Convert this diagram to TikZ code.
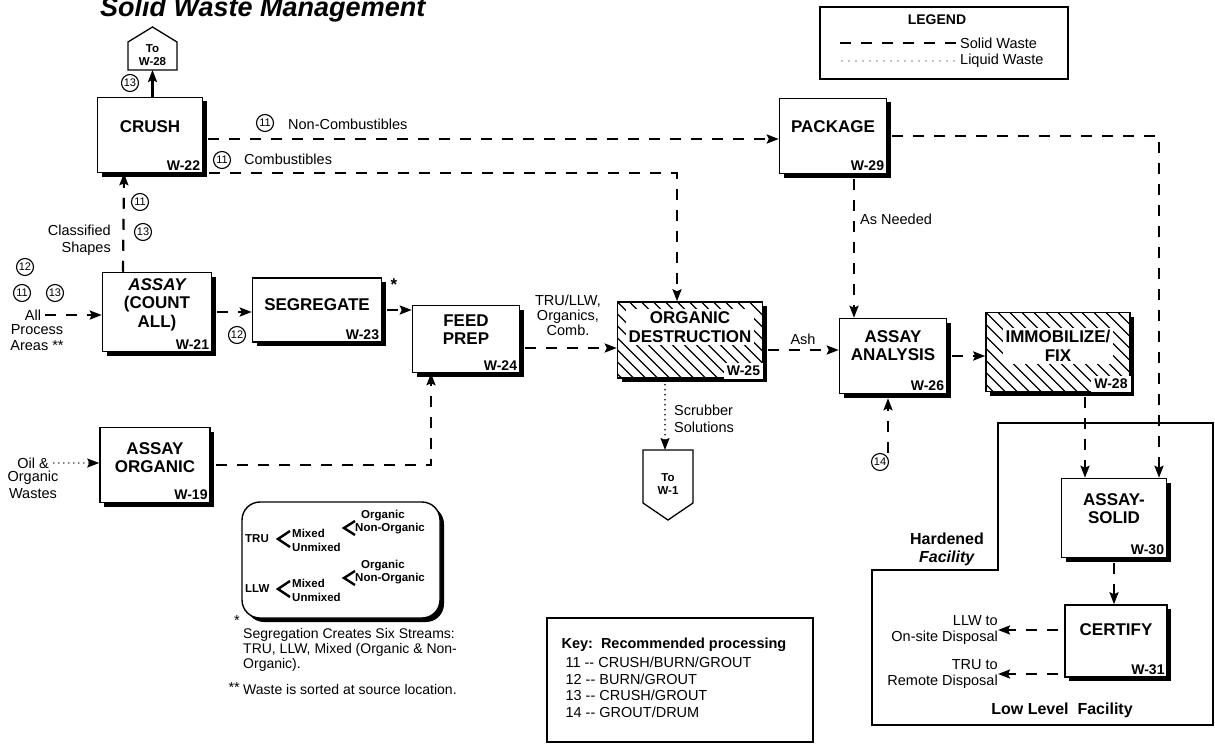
\documentclass[tikz,border=0pt]{standalone}
\usepackage{fontspec}
\setmainfont{Liberation Sans}
\usetikzlibrary{arrows.meta,positioning,calc,shadows}

\begin{document}
\begin{tikzpicture}[x=1pt, y=-1pt, font=\fontsize{14.5}{16.5}\selectfont,
  shadowed/.style={drop shadow={shadow xshift=4pt, shadow yshift=-4pt, opacity=1, fill=black}},
  procbox/.style={draw, line width=1.5pt, fill=white, inner sep=0pt, shadowed},
  hatchbox/.style={procbox, path picture={
      \foreach \k in {-96,-84,...,156}
        \draw[line width=1.2pt] ($(path picture bounding box.north west)+(\k,0)$) -- ++(120,120);}},
  boxtxt/.style={font=\fontsize{17}{18.5}\selectfont\bfseries, align=center, anchor=center, inner sep=0pt},
  hatchtxt/.style={boxtxt, fill=white, inner sep=2.5pt},
  wlab/.style={font=\fontsize{14}{14}\selectfont\bfseries, anchor=south east, inner sep=3pt},
  num/.style={circle, draw, line width=1.1pt, inner sep=0pt, minimum size=17pt, font=\fontsize{11}{11}\selectfont},
  lab/.style={inner sep=0pt, align=center},
  treetxt/.style={inner sep=0pt, anchor=west, font=\fontsize{11.5}{12}\selectfont\bfseries},
  fork/.style={line width=2.4pt, line join=miter},
  solidflow/.style={line width=2.2pt, dash pattern=on 11pt off 10pt},
  liquidflow/.style={line width=1.6pt, line cap=round, dash pattern=on 0pt off 5pt},
  tip/.style={-{Stealth[length=12pt, width=9pt, inset=2pt]}},
]
\useasboundingbox (0,0) rectangle (1215,749);

% title
\node[anchor=base west, inner sep=0pt, font=\fontsize{27}{27}\selectfont\bfseries\itshape] (title) at (100,17) {Solid Waste Management};

% legend
\node[draw, line width=1.3pt, minimum width=248, minimum height=72, inner sep=0pt] (legend) at (944,43) {};
\node[lab, font=\fontsize{14}{14}\selectfont\bfseries] (legtitle) at (937,20) {LEGEND};
\node[lab, anchor=west] (legsolid) at (960,43) {Solid Waste};
\node[lab, anchor=west] (legliquid) at (960,61) {Liquid Waste};
\draw[solidflow] ([xshift=-4pt]legsolid.west) -- ++(-122,0);
\draw[line width=1.2pt, line cap=round, dash pattern=on 0pt off 7pt] ([xshift=-6pt]legliquid.west) -- ++(-117,0);

% process boxes
\node[procbox, minimum width=105, minimum height=75,
      label={[boxtxt, yshift=-30pt]north:CRUSH},
      label={[wlab]south east:W-22}] (crush) at (150,135) {};
\node[procbox, minimum width=109, minimum height=79,
      label={[boxtxt, yshift=-33pt]north:{{\itshape ASSAY}\\(COUNT\\ALL)}},
      label={[wlab]south east:W-21}] (w21) at (157,312) {};
\node[procbox, minimum width=129, minimum height=64,
      label={[boxtxt, yshift=-27pt]north:SEGREGATE},
      label={[wlab]south east:W-23}] (seg) at (317,310) {};
\node[procbox, minimum width=107, minimum height=67,
      label={[boxtxt, yshift=-25pt]north:{FEED\\PREP}},
      label={[wlab]south east:W-24}] (feed) at (466,339) {};
\node[hatchbox, minimum width=145, minimum height=76,
      label={[hatchtxt, yshift=-26pt]north:{ORGANIC\\DESTRUCTION}},
      label={[wlab, fill=white]south east:W-25}] (orgdest) at (690,340) {};
\node[procbox, minimum width=107, minimum height=75,
      label={[boxtxt, yshift=-28pt]north:{ASSAY\\ANALYSIS}},
      label={[wlab]south east:W-26}] (assayan) at (893,356) {};
\node[hatchbox, minimum width=144, minimum height=79,
      label={[hatchtxt, yshift=-34pt]north:{IMMOBILIZE/\\FIX}},
      label={[wlab, fill=white]south east:W-28}] (immob) at (1058,352) {};
\node[procbox, minimum width=107, minimum height=75,
      label={[boxtxt, yshift=-29pt]north:PACKAGE},
      label={[wlab]south east:W-29}] (package) at (833,136) {};
\node[procbox, minimum width=105, minimum height=79,
      label={[boxtxt, yshift=-31pt]north:{ASSAY-\\SOLID}},
      label={[wlab]south east:W-30}] (assaysolid) at (1114,518) {};
\node[procbox, minimum width=102, minimum height=72,
      label={[boxtxt, yshift=-25pt]north:CERTIFY},
      label={[wlab]south east:W-31}] (certify) at (1116,641) {};
\node[procbox, minimum width=110, minimum height=75,
      label={[boxtxt, yshift=-31pt]north:{ASSAY\\ORGANIC}},
      label={[wlab]south east:W-19}] (assayorg) at (155,465) {};

% exits
\draw[line width=1.3pt] (128,70) -- (128,42) -- (152.5,27) -- (177,42) -- (177,70) -- cycle;
\node[lab, font=\fontsize{11.5}{13}\selectfont\bfseries] (tow28) at (152.5,55) {To\\W-28};
\coordinate (tow28base) at (152.5,70);
\draw[line width=1.3pt] (643,450) -- (693,450) -- (693,503) -- (668,520) -- (643,503) -- cycle;
\node[lab, font=\fontsize{11.5}{13}\selectfont\bfseries] (tow1) at (668,484) {To\\W-1};
\coordinate (tow1top) at (665,450);

% crush
\draw[line width=2.2pt, tip] (crush.north -| tow28base) -- (tow28base);
\node[num] (n13top) at (130,83) {13};
\draw[solidflow, tip, shorten <=5pt] ([yshift=-4pt]crush.east) -- ([yshift=-4pt]crush.east -| package.west);
\node[num] (n11nc) at (265,123) {11};
\node[lab, anchor=west] (noncomb) at (288,124) {Non-Combustibles};
\draw[solidflow, tip, shorten <=6pt] (crush.south east) -| ([xshift=-13pt]orgdest.north);
\node[num] (n11c) at (222,160) {11};
\node[lab, anchor=west] (comb) at (244,159) {Combustibles};

% classified shapes
\draw[solidflow, tip] ([xshift=-34pt]w21.north) -- ([xshift=-26pt]crush.south);
\node[num] (n11up) at (140,202) {11};
\node[num] (n13up) at (143,232) {13};
\node[lab, align=right, anchor=east] (classif) at (111,240) {Classified\\Shapes};

% all process areas
\node[num] (n12in) at (25,267) {12};
\node[num] (n11in) at (22,293) {11};
\node[num] (n13in) at (55,293) {13};
\node[lab] (all) at (33,315) {All};
\node[lab, anchor=north] (areas) at (37,324) {Process\\Areas **};
\draw[solidflow, tip, shorten <=4pt] (all.east) -- (all.east -| w21.west);

% main line
\draw[solidflow, tip, shorten <=5pt] (w21.east) -- (w21.east -| seg.west);
\node[num] (n12seg) at (237,335) {12};
\node[lab, font=\fontsize{17}{17}\selectfont\bfseries] (segstar) at (394,285) {*};
\draw[solidflow, tip, shorten <=5pt] (seg.east) -- (seg.east -| feed.west);
\draw[solidflow, tip, shorten <=5pt] ([yshift=-9pt]feed.east) -- ([yshift=-9pt]feed.east -| orgdest.west);
\node[lab, font=\fontsize{14.5}{15}\selectfont] (trullw) at (568,315) {TRU/LLW,\\Organics,\\Comb.};
\draw[solidflow, tip, shorten <=5pt] ([yshift=-10pt]orgdest.east) -- ([yshift=-10pt]orgdest.east -| assayan.west);
\node[lab] (ash) at (803,339) {Ash};
\draw[solidflow, tip, shorten <=5pt] (assayan.east) -- (assayan.east -| immob.west);

% package
\draw[solidflow, tip, shorten <=5pt] ([xshift=21pt]package.south) -- ([xshift=21pt]package.south |- assayan.north);
\node[lab, anchor=west] (asneeded) at (860,219) {As Needed};
\draw[solidflow, tip, shorten <=5pt] (package.east) -| ([xshift=45pt]assaysolid.north);
\draw[solidflow, tip, shorten <=5pt] ([xshift=27pt]immob.south) -- ([xshift=27pt]immob.south |- assaysolid.north);

% grout/drum input
\node[num] (n14) at (880,462) {14};
\draw[solidflow, tip, shorten >=4pt] ([xshift=8pt]n14.north) -- ([xshift=8pt]n14.north |- assayan.south);

% scrubber
\draw[liquidflow, tip, shorten <=6pt] (orgdest.south -| tow1top) -- (tow1top);
\node[lab, align=left, anchor=west] (scrub) at (674,419) {Scrubber\\Solutions};

% organic wastes
\node[lab] (oil) at (33,463) {Oil \&};
\node[lab, anchor=north] (orgwastes) at (33,471) {Organic\\Wastes};
\draw[liquidflow, tip, shorten <=5pt] (oil.east) -- (oil.east -| assayorg.west);
\draw[solidflow, tip, shorten <=5pt] (assayorg.east) -| ([xshift=-35pt]feed.south);

% final steps
\draw[solidflow, tip, shorten <=5pt] (assaysolid.south) -- (assaysolid.south |- certify.north);
\node[lab, align=right, anchor=east] (llw) at (998,630) {LLW to\\On-site Disposal};
\node[lab, align=right, anchor=east] (tru) at (998,674) {TRU to\\Remote Disposal};
\draw[solidflow, tip, shorten <=6pt] (certify.west |- llw.east) -- (llw.east);
\draw[solidflow, tip, shorten <=6pt] (certify.west |- tru.east) -- (tru.east);

% facility boundary
\draw[line width=1.3pt] (998,423) -- (1213,423) -- (1213,725) -- (872,725) -- (872,570) -- (998,570) -- cycle;
\node[lab, font=\fontsize{16}{18}\selectfont\bfseries] (hardened) at (947,549) {Hardened\\\textit{Facility}};
\node[lab, font=\fontsize{16}{16}\selectfont\bfseries] (lowlevel) at (1062,710) {Low Level\ \ Facility};

% segregation streams
\node[draw, line width=1.4pt, fill=white, rounded corners=18pt, minimum width=198, minimum height=116, shadowed] (treebox) at (341,560) {};
\foreach \cat/\yy in {TRU/539, LLW/589} {
  \node[treetxt] (cat-\cat) at (245,\yy) {\cat};
  \draw[fork] (290,\yy-8) -- (278,\yy) -- (290,\yy+8);
  \node[treetxt] (mix-\cat) at (292,\yy-6) {Mixed};
  \node[treetxt] (unmix-\cat) at (292,\yy+8) {Unmixed};
  \draw[fork] (355,\yy-18) -- (344,\yy-11) -- (355,\yy-4);
  \node[treetxt] (org-\cat) at (361,\yy-23) {Organic};
  \node[treetxt] (nonorg-\cat) at (355,\yy-10) {Non-Organic};
}

% notes
\node[lab, align=left, anchor=north west, font=\fontsize{14}{15}\selectfont] (fnseg) at (243,628) {Segregation Creates Six Streams:\\TRU, LLW, Mixed (Organic \& Non-\\Organic).};
\node[lab, anchor=south east] (fnstar) at ([xshift=-3pt, yshift=2pt]fnseg.north west) {*};
\node[lab, anchor=north west, font=\fontsize{14}{15}\selectfont] (fnsrc) at (243,684) {Waste is sorted at source location.};
\node[lab, anchor=east] (fnstars) at ([xshift=-3pt, yshift=2pt]fnsrc.west) {**};

% key
\node[draw, line width=1.3pt, minimum width=266, minimum height=124, inner sep=0pt] (keybox) at (680,680) {};
\node[lab, align=left, anchor=north west] (keytxt) at ([xshift=15pt, yshift=-20pt]keybox.north west)
  {\textbf{Key:\ \ Recommended processing}\\[3pt]
   \ 11 -{}- CRUSH/BURN/GROUT\\
   \ 12 -{}- BURN/GROUT\\
   \ 13 -{}- CRUSH/GROUT\\
   \ 14 -{}- GROUT/DRUM};
\end{tikzpicture}
\end{document}
